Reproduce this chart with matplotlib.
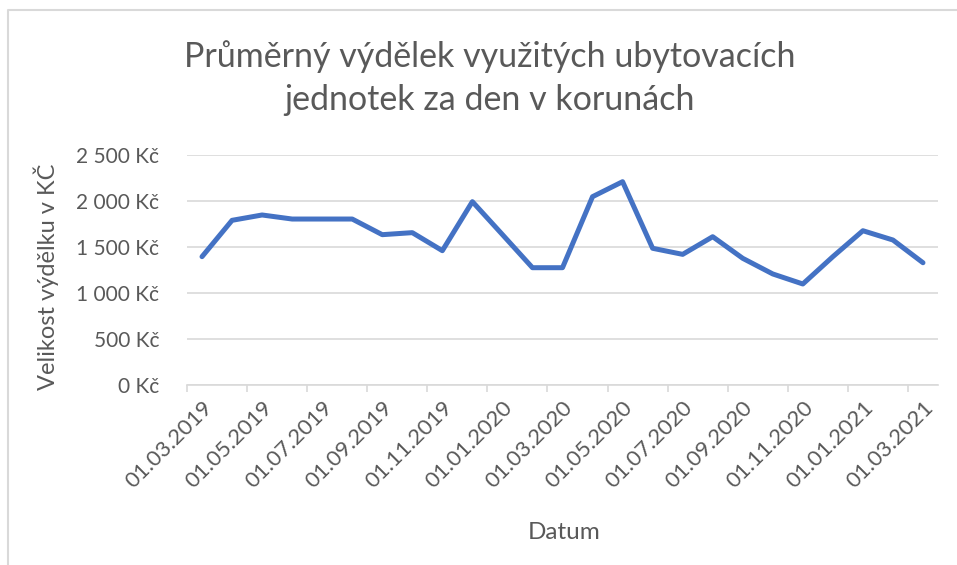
import matplotlib
matplotlib.use("Agg")
import matplotlib.pyplot as plt
from matplotlib.lines import Line2D

# monthly values, 03/2019 - 03/2021
months = ["01.03.2019", "01.04.2019", "01.05.2019", "01.06.2019", "01.07.2019",
          "01.08.2019", "01.09.2019", "01.10.2019", "01.11.2019", "01.12.2019",
          "01.01.2020", "01.02.2020", "01.03.2020", "01.04.2020", "01.05.2020",
          "01.06.2020", "01.07.2020", "01.08.2020", "01.09.2020", "01.10.2020",
          "01.11.2020", "01.12.2020", "01.01.2021", "01.02.2021", "01.03.2021"]
earnings = [1395, 1790, 1848, 1804, 1804, 1804, 1634, 1656, 1460, 1993,
            1635, 1275, 1275, 2047, 2210, 1486, 1420, 1612, 1377, 1207,
            1098, 1395, 1677, 1576, 1329]
yticks = [0, 500, 1000, 1500, 2000, 2500]
ytick_labels = ["0 Kč", "500 Kč", "1 000 Kč", "1 500 Kč", "2 000 Kč", "2 500 Kč"]
title_lines = ["Průměrný výdělek využitých ubytovacích", "jednotek za den v korunách"]

plt.rcParams['font.family'] = ['Lato', 'DejaVu Sans']
text_col = '#595959'
grid_col = '#D9D9D9'

fig = plt.figure(figsize=(9.57, 5.65), dpi=100)
ax = fig.add_axes([187/957, 1-385/565, (938-187)/957, (385-155)/565])

x = list(range(len(months)))
ax.plot(x, earnings, color='#4472C4', lw=3.6, solid_joinstyle='round', solid_capstyle='round', zorder=3)

ax.set_xlim(-0.5, len(months) - 0.5)
ax.set_ylim(0, 2500)

ax.set_yticks(yticks)
ax.set_yticklabels(ytick_labels)
ax.yaxis.grid(True, color=grid_col, lw=1.2)
ax.set_axisbelow(True)

ax.set_xticks(x[::2])
ax.set_xticklabels(months[::2], rotation=45, ha='right', va='top', rotation_mode='anchor')
ax.set_xticks([i - 0.5 for i in range(0, len(months), 2)], minor=True)
ax.tick_params(axis='x', which='major', length=0, pad=9, labelsize=16, labelcolor=text_col)
ax.tick_params(axis='x', which='minor', length=5, width=1.2, color=grid_col)
ax.tick_params(axis='y', length=0, pad=20, labelsize=15, labelcolor=text_col)

for s in ['top', 'right', 'left']:
    ax.spines[s].set_visible(False)
ax.spines['bottom'].set_color(grid_col)
ax.spines['bottom'].set_linewidth(1.2)

ax.set_ylabel("Velikost výdělku v KČ", fontsize=17, color=text_col)
ax.yaxis.set_label_coords(-0.17, 0.47)
ax.set_xlabel("Datum", fontsize=17.5, color=text_col)
ax.xaxis.set_label_coords(0.502, -0.596)

fig.text(490/957, 1-57/565, title_lines[0], ha='center', va='center', fontsize=24.5, color=text_col)
fig.text(490/957, 1-100/565, title_lines[1], ha='center', va='center', fontsize=24.5, color=text_col)

# chart frame (top and left edges visible)
fig.add_artist(Line2D([8/957, 8/957, 1], [0, 1-10/565, 1-10/565], color=grid_col, lw=1.5,
                      transform=fig.transFigure))

fig.savefig("out.png", dpi=100)
